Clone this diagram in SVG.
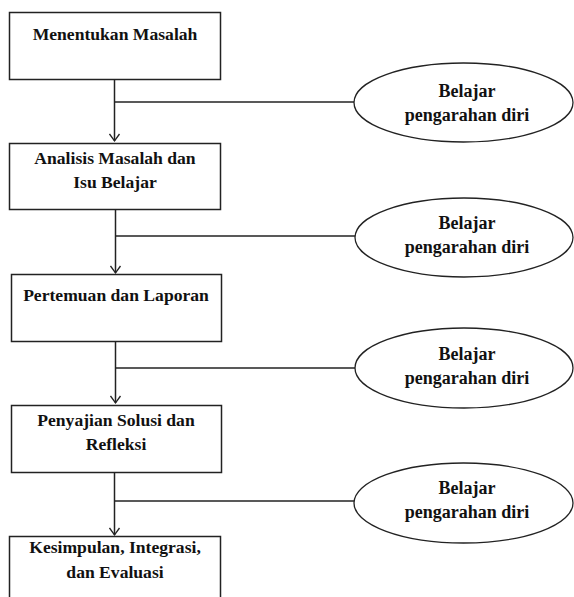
<svg xmlns="http://www.w3.org/2000/svg" width="574" height="597" viewBox="0 0 574 597">
<defs>
<style>
.box{fill:#fff;stroke:#222;stroke-width:1.5}
.ell{fill:#fff;stroke:#222;stroke-width:1.3}
.t{font-family:'Liberation Serif','DejaVu Serif',serif;font-weight:700;font-size:17.6px;fill:#111;text-anchor:middle}
.te{font-size:18px}
.c{stroke:#222;stroke-width:1.5;fill:none}
</style>
<marker id="arr" markerWidth="12" markerHeight="12" refX="10" refY="6" orient="auto" markerUnits="userSpaceOnUse">
<path d="M3,1 L10,6 L3,11" fill="none" stroke="#222" stroke-width="1.3"/>
</marker>
</defs>
<rect width="574" height="597" fill="#fff"/>
<g id="connectors">
<line class="c" x1="114.5" y1="79" x2="114.5" y2="141" marker-end="url(#arr)"/>
<line class="c" x1="114.5" y1="102" x2="354" y2="102"/>
<line class="c" x1="115.5" y1="209" x2="115.5" y2="273" marker-end="url(#arr)"/>
<line class="c" x1="115.5" y1="236" x2="355" y2="236"/>
<line class="c" x1="115.5" y1="341" x2="115.5" y2="403" marker-end="url(#arr)"/>
<line class="c" x1="115.5" y1="368" x2="355" y2="368"/>
<line class="c" x1="114.5" y1="472" x2="114.5" y2="535" marker-end="url(#arr)"/>
<line class="c" x1="114.5" y1="501" x2="354" y2="501"/>
</g>
<g id="n1">
<rect class="box" x="9.5" y="12.5" width="211" height="67"/>
<text class="t" x="115" y="40">Menentukan Masalah</text>
</g>
<g id="n2">
<rect class="box" x="9.5" y="143.5" width="211" height="66"/>
<text class="t" x="115" y="164">Analisis Masalah dan</text>
<text class="t" x="115" y="188">Isu Belajar</text>
</g>
<g id="n3">
<rect class="box" x="11.5" y="274.5" width="210" height="67"/>
<text class="t" x="116" y="301">Pertemuan dan Laporan</text>
</g>
<g id="n4">
<rect class="box" x="11.5" y="405.5" width="210" height="67"/>
<text class="t" x="116" y="426">Penyajian Solusi dan</text>
<text class="t" x="116" y="450">Refleksi</text>
</g>
<g id="n5">
<rect class="box" x="9.5" y="536.5" width="211" height="70"/>
<text class="t" x="115" y="553">Kesimpulan, Integrasi,</text>
<text class="t" x="115" y="578">dan Evaluasi</text>
</g>
<g id="e1">
<ellipse class="ell" cx="463.5" cy="102.5" rx="109.5" ry="39.5"/>
<text class="t te" x="467" y="97">Belajar</text>
<text class="t te" x="467" y="121">pengarahan diri</text>
</g>
<g id="e2">
<ellipse class="ell" cx="464" cy="237.5" rx="109" ry="39.5"/>
<text class="t te" x="467" y="229">Belajar</text>
<text class="t te" x="467" y="253">pengarahan diri</text>
</g>
<g id="e3">
<ellipse class="ell" cx="464" cy="368" rx="109" ry="40"/>
<text class="t te" x="467" y="360">Belajar</text>
<text class="t te" x="467" y="384">pengarahan diri</text>
</g>
<g id="e4">
<ellipse class="ell" cx="463.5" cy="503" rx="109.5" ry="40"/>
<text class="t te" x="467" y="494">Belajar</text>
<text class="t te" x="467" y="518">pengarahan diri</text>
</g>
</svg>
